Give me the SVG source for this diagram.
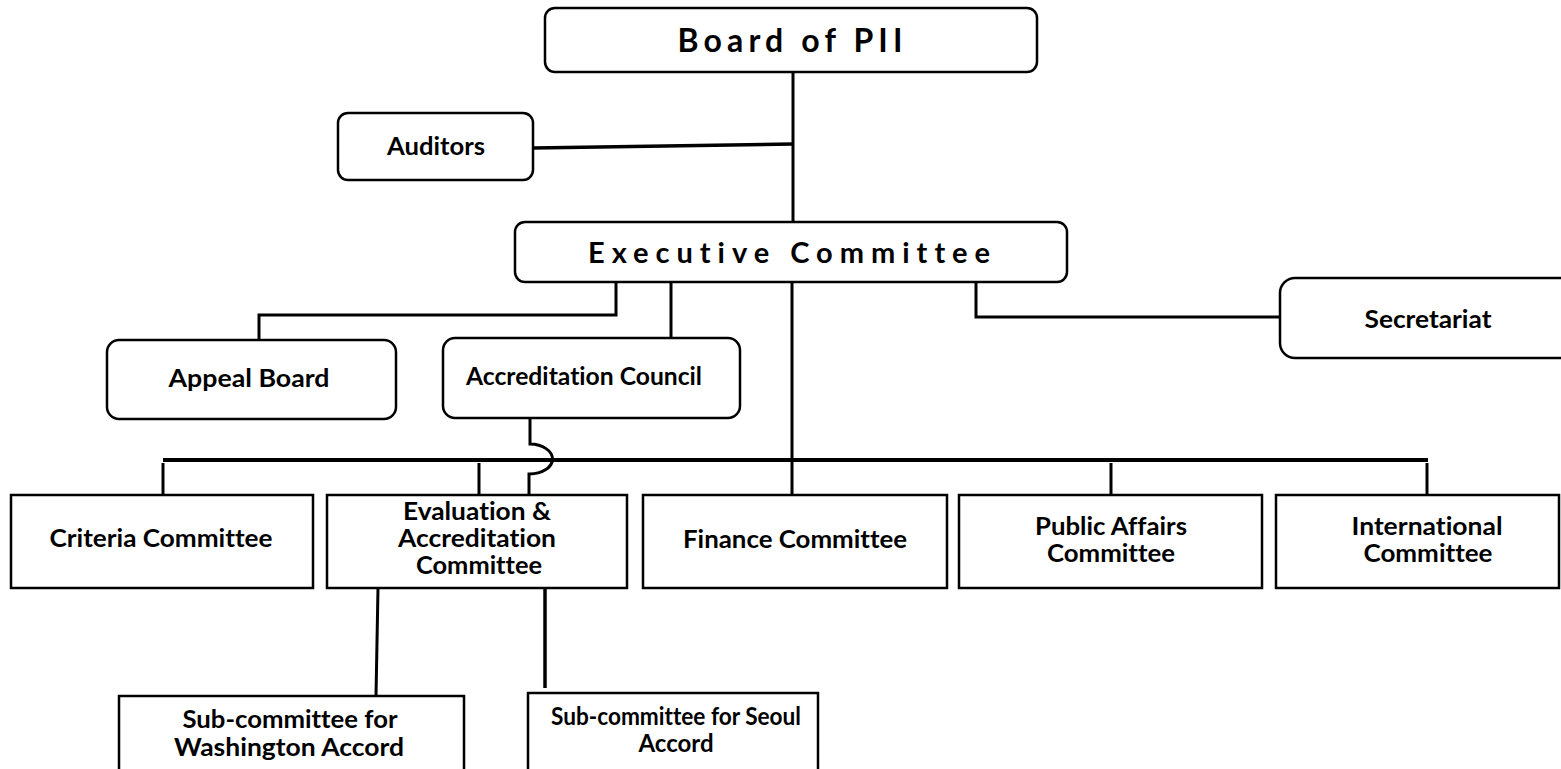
<svg xmlns="http://www.w3.org/2000/svg" width="1561" height="769" viewBox="0 0 1561 769">
<style>
.box{fill:#fff;stroke:#000;stroke-width:2.5}
.rbox{fill:#fff;stroke:#000;stroke-width:2.5}
text{font-variant-ligatures:none;font-feature-settings:"liga" 0,"clig" 0,"dlig" 0}
.t{font-family:Lato,"Liberation Sans",sans-serif;font-weight:bold;font-size:24px;fill:#000;text-anchor:middle}
.h{font-family:Lato,"Liberation Sans",sans-serif;font-weight:bold;fill:#000;text-anchor:middle}
.c{fill:none;stroke:#000;stroke-width:3}
.bus{fill:none;stroke:#000;stroke-width:4}
</style>
<rect width="1561" height="769" fill="#fff"/>
<g id="connectors">
<path class="c" d="M793 72 V222"/>
<path class="c" d="M533 148 L793 144" style="stroke-width:3.5"/>
<path class="c" d="M616 282 V315 H259 V340"/>
<path class="c" d="M671 283 V338"/>
<path class="c" d="M792 282 V495"/>
<path class="c" d="M976 282 V317 H1280"/>
<path class="bus" d="M163 460 H1428"/>
<path class="c" d="M163 463 V495 M479 463 V495 M1111 463 V495 M1427 463 V495"/>
<path class="c" d="M530 418 V444 A23 15 0 0 1 529 474 V495"/>
<path class="c" d="M378 588 L376 696"/>
<path class="c" d="M545 588 V688" style="stroke-width:3.5"/>
</g>
<g id="board">
<rect class="rbox" x="545" y="8" width="492" height="64" rx="10"/>
<text class="h" x="790" y="52" font-size="32" textLength="225" lengthAdjust="spacing">Board of PII</text>
</g>
<g id="auditors">
<rect class="rbox" x="338" y="113" width="195" height="67" rx="10"/>
<text class="t" x="436" y="155" textLength="98" lengthAdjust="spacingAndGlyphs">Auditors</text>
</g>
<g id="executive">
<rect class="rbox" x="515" y="222" width="552" height="60" rx="10"/>
<text class="h" x="789" y="263" font-size="29" textLength="402" lengthAdjust="spacing">Executive Committee</text>
</g>
<g id="appeal">
<rect class="rbox" x="107" y="340" width="289" height="79" rx="12"/>
<text class="t" x="249" y="387" textLength="161" lengthAdjust="spacingAndGlyphs">Appeal Board</text>
</g>
<g id="accreditation-council">
<rect class="rbox" x="443" y="338" width="297" height="80" rx="12"/>
<text class="t" x="584" y="385" textLength="236" lengthAdjust="spacingAndGlyphs">Accreditation Council</text>
</g>
<g id="secretariat">
<rect class="rbox" x="1280" y="278" width="320" height="80" rx="15"/>
<text class="t" x="1428" y="328" textLength="127" lengthAdjust="spacingAndGlyphs">Secretariat</text>
</g>
<g id="criteria">
<rect class="box" x="11" y="495" width="302" height="93"/>
<text class="t" x="161" y="547" textLength="223" lengthAdjust="spacingAndGlyphs">Criteria Committee</text>
</g>
<g id="evaluation">
<rect class="box" x="327" y="495" width="300" height="93"/>
<text class="t" x="477" y="520" textLength="148" lengthAdjust="spacingAndGlyphs">Evaluation &amp;</text>
<text class="t" x="477" y="547" textLength="158" lengthAdjust="spacingAndGlyphs">Accreditation</text>
<text class="t" x="479" y="574" textLength="126" lengthAdjust="spacingAndGlyphs">Committee</text>
</g>
<g id="finance">
<rect class="box" x="643" y="495" width="304" height="93"/>
<text class="t" x="795" y="548" textLength="224" lengthAdjust="spacingAndGlyphs">Finance Committee</text>
</g>
<g id="public-affairs">
<rect class="box" x="959" y="495" width="303" height="93"/>
<text class="t" x="1111" y="535" textLength="152" lengthAdjust="spacingAndGlyphs">Public Affairs</text>
<text class="t" x="1111" y="562" textLength="128" lengthAdjust="spacingAndGlyphs">Committee</text>
</g>
<g id="international">
<rect class="box" x="1276" y="495" width="283" height="93"/>
<text class="t" x="1427" y="535" textLength="151" lengthAdjust="spacingAndGlyphs">International</text>
<text class="t" x="1428" y="562" textLength="129" lengthAdjust="spacingAndGlyphs">Committee</text>
</g>
<g id="washington">
<rect class="box" x="119" y="696" width="345" height="100"/>
<text class="t" x="290" y="728" textLength="215" lengthAdjust="spacingAndGlyphs">Sub-committee for</text>
<text class="t" x="289" y="756" textLength="230" lengthAdjust="spacingAndGlyphs">Washington Accord</text>
</g>
<g id="seoul">
<rect class="box" x="528" y="693" width="290" height="100"/>
<text class="t" x="676" y="725" textLength="250" lengthAdjust="spacingAndGlyphs">Sub-committee for Seoul</text>
<text class="t" x="676" y="752">Accord</text>
</g>
</svg>
